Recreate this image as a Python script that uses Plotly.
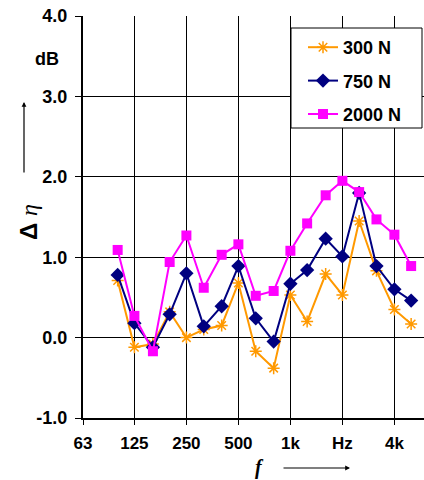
import numpy as np
import plotly.graph_objects as go

freqs = [100, 125, 160, 200, 250, 315, 400, 500, 630, 800, 1000, 1250, 1600, 2000, 2500, 3150, 4000, 5000]
s300 = [0.71, -0.12, -0.08, 0.32, 0.00, 0.10, 0.15, 0.68, -0.17, -0.38, 0.53, 0.20, 0.79, 0.53, 1.45, 0.83, 0.35, 0.17]
s750 = [0.78, 0.18, -0.12, 0.29, 0.80, 0.14, 0.39, 0.89, 0.24, -0.05, 0.67, 0.84, 1.23, 1.01, 1.80, 0.89, 0.60, 0.46]
s2000 = [1.09, 0.27, -0.17, 0.94, 1.27, 0.62, 1.03, 1.16, 0.52, 0.58, 1.08, 1.42, 1.77, 1.95, 1.81, 1.47, 1.28, 0.89]
names = ["300 N", "750 N", "2000 N"]
xtick_vals = [63, 125, 250, 500, 1000, 2000, 4000]
xtick_text = ["63", "125", "250", "500", "1k", "Hz", "4k"]
ytick_vals = [-1, 0, 1, 2, 3, 4]
ytick_text = ["-1.0", "0.0", "1.0", "2.0", "3.0", "4.0"]

FONT = "Liberation Sans, Arial, sans-serif"
W, H = 424, 480
L, T, B = 83, 16, 62
plot_w = W - L
octave_px = 52.0
x_lo = np.log10(63)
x_hi = x_lo + plot_w / octave_px * np.log10(2)

def px(xp):
    return (xp - L) / plot_w

def py(yp):
    return (H - B - yp) / (H - T - B)

fig = go.Figure()
fig.add_trace(go.Scatter(x=freqs, y=s300, name=names[0], legendgroup="a", mode="lines+markers",
                         line=dict(color="#FF9900", width=2),
                         marker=dict(symbol="asterisk-open", size=10, color="#FF9900",
                                     line=dict(color="#FF9900", width=1.5))))
fig.add_trace(go.Scatter(x=freqs, y=s750, name=names[1], legendgroup="b", mode="lines+markers",
                         line=dict(color="#000080", width=2),
                         marker=dict(symbol="diamond", size=11, color="#000080")))
fig.add_trace(go.Scatter(x=freqs, y=s2000, name=names[2], legendgroup="c", mode="lines+markers",
                         line=dict(color="#FF00FF", width=2),
                         marker=dict(symbol="square", size=10, color="#FF00FF")))

# legend frame
fig.add_shape(type="rect", xref="paper", yref="paper", x0=px(291), x1=px(422), y0=py(128), y1=py(28),
              fillcolor="white", line=dict(color="black", width=1), layer="above")

fig.update_layout(
    width=W, height=H,
    margin=dict(l=L, r=0, t=T, b=B),
    paper_bgcolor="white", plot_bgcolor="white",
    font=dict(family=FONT, color="black"),
    showlegend=True,
    legend=dict(x=px(303), y=py(29), xanchor="left", yanchor="top",
                bgcolor="rgba(0,0,0,0)", borderwidth=0,
                font=dict(family=FONT, size=18, weight="bold", color="black"),
                tracegroupgap=7, itemwidth=30),
    xaxis=dict(type="log", range=[x_lo, x_hi], tickmode="array", tickvals=xtick_vals, ticktext=xtick_text,
               showgrid=True, gridcolor="black", gridwidth=1,
               showline=True, linecolor="black", linewidth=1.5,
               ticks="outside", ticklen=5, tickcolor="black",
               tickfont=dict(family=FONT, size=17, weight="bold"), ticklabelstandoff=4),
    yaxis=dict(range=[-1, 4], tickmode="array", tickvals=ytick_vals, ticktext=ytick_text,
               showgrid=True, gridcolor="black", gridwidth=1, zeroline=False,
               showline=True, linecolor="black", linewidth=2,
               ticks="outside", ticklen=6, tickcolor="black",
               tickfont=dict(family=FONT, size=18, weight="bold"), ticklabelstandoff=4),
)

# dB unit label
fig.add_annotation(x=px(47), y=py(59), xref="paper", yref="paper", text="dB", showarrow=False,
                   font=dict(family=FONT, size=18, weight="bold"), xanchor="center", yanchor="middle")
# y title
fig.add_annotation(x=px(28), y=py(222), xref="paper", yref="paper",
                   text="<b>Δ </b><i><span style='font-family:Liberation Serif'>η</span></i>",
                   showarrow=False, textangle=-90, font=dict(family=FONT, size=24),
                   xanchor="center", yanchor="middle")
# y arrow
fig.add_annotation(x=px(24), y=py(102), xref="paper", yref="paper", text="", showarrow=True,
                   ax=0, ay=72, axref="pixel", ayref="pixel", arrowhead=2, arrowsize=0.8,
                   arrowwidth=1.2, arrowcolor="black")
# x title
fig.add_annotation(x=px(259), y=py(467), xref="paper", yref="paper",
                   text="<b><i><span style='font-family:Liberation Serif'>f</span></i></b>",
                   showarrow=False, font=dict(family=FONT, size=20), xanchor="center", yanchor="middle")
# x arrow
fig.add_annotation(x=px(350), y=py(468), xref="paper", yref="paper", text="", showarrow=True,
                   ax=-68, ay=0, axref="pixel", ayref="pixel", arrowhead=2, arrowsize=0.8,
                   arrowwidth=1.2, arrowcolor="black")

fig.write_html("out.html")
